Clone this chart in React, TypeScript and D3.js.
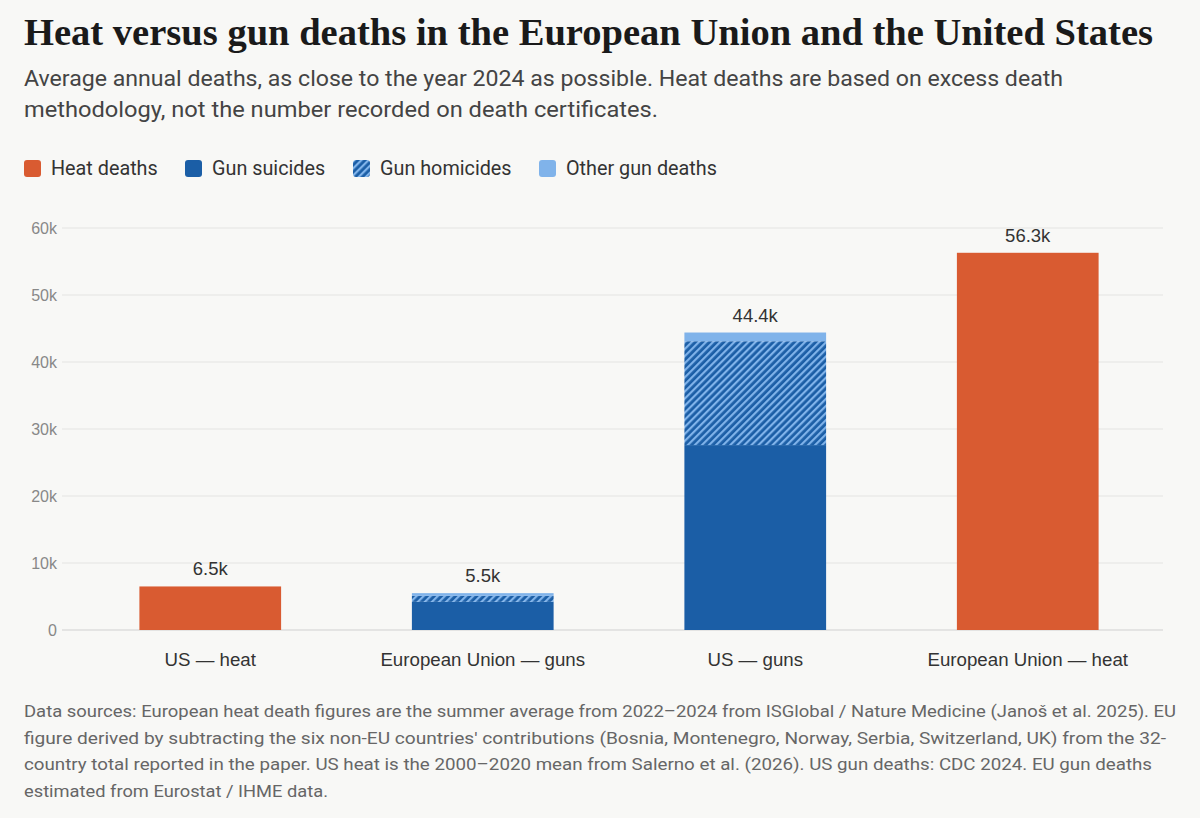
import React, { useEffect, useRef } from "react";
import * as d3 from "d3";

const categories = ["US — heat", "European Union — guns", "US — guns", "European Union — heat"];
const heatDeaths = [6.5, 0, 0, 56.3];
const gunSuicides = [0, 4.2, 27.6, 0];
const gunHomicides = [0, 0.9, 15.5, 0];
const otherGunDeaths = [0, 0.4, 1.3, 0];
const totalLabels = ["6.5k", "5.5k", "44.4k", "56.3k"];
const yTicks = [0, 10, 20, 30, 40, 50, 60];

const seriesKeys = ["heat", "suicides", "homicides", "other"];
const legendLabels = ["Heat deaths", "Gun suicides", "Gun homicides", "Other gun deaths"];

const subtitleLines = [
  "Average annual deaths, as close to the year 2024 as possible. Heat deaths are based on excess death",
  "methodology, not the number recorded on death certificates.",
];
const subtitleWidths = [1039, 634];
const footerLines = [
  "Data sources: European heat death figures are the summer average from 2022–2024 from ISGlobal / Nature Medicine (Janoš et al. 2025). EU",
  "figure derived by subtracting the six non-EU countries' contributions (Bosnia, Montenegro, Norway, Serbia, Switzerland, UK) from the 32-",
  "country total reported in the paper. US heat is the 2000–2020 mean from Salerno et al. (2026). US gun deaths: CDC 2024. EU gun deaths",
  "estimated from Eurostat / IHME data.",
];
const footerWidths = [1152, 1142, 1128, 304];

const W = 1200;
const H = 818;
const ORANGE = "#d95b31";
const DARK = "#1b5ea6";
const LIGHT = "#80b3ea";
const SANS = "Roboto, 'Noto Sans', sans-serif";
const HELV = "'Liberation Sans', Arial, sans-serif";

const App = () => {
  const ref = useRef<SVGSVGElement>(null);

  useEffect(() => {
    const svg = d3.select(ref.current);
    svg.selectAll("*").remove();

    svg.append("rect").attr("width", W).attr("height", H).attr("fill", "#f8f8f6");

    // hatch pattern for homicides
    const defs = svg.append("defs");
    const pat = defs
      .append("pattern")
      .attr("id", "hatch")
      .attr("patternUnits", "userSpaceOnUse")
      .attr("width", 5)
      .attr("height", 5)
      .attr("patternTransform", "rotate(45)");
    pat.append("rect").attr("width", 5).attr("height", 5).attr("fill", DARK);
    pat.append("rect").attr("width", 2.2).attr("height", 5).attr("fill", LIGHT);

    const fills: Record<string, string> = {
      heat: ORANGE,
      suicides: DARK,
      homicides: "url(#hatch)",
      other: LIGHT,
    };

    // titles
    svg
      .append("text")
      .attr("x", 24)
      .attr("y", 45)
      .attr("font-family", "'Liberation Serif', serif")
      .attr("font-weight", "bold")
      .attr("font-size", 38)
      .attr("fill", "#1a1a1a")
      .attr("textLength", 1129)
      .attr("lengthAdjust", "spacingAndGlyphs")
      .text("Heat versus gun deaths in the European Union and the United States");

    svg
      .append("g")
      .selectAll("text")
      .data(subtitleLines)
      .enter()
      .append("text")
      .attr("x", 24)
      .attr("y", (d, i) => 86 + i * 31)
      .attr("font-family", SANS)
      .attr("font-size", 21.5)
      .attr("fill", "#444")
      .attr("textLength", (d, i) => subtitleWidths[i])
      .attr("lengthAdjust", "spacingAndGlyphs")
      .text((d) => d);

    // legend
    const legendX = [24, 185, 353, 539];
    const legend = svg
      .append("g")
      .selectAll("g")
      .data(seriesKeys)
      .enter()
      .append("g")
      .attr("transform", (d, i) => `translate(${legendX[i]},160)`);
    legend
      .append("rect")
      .attr("width", 17)
      .attr("height", 17)
      .attr("rx", 3)
      .attr("fill", (d) => fills[d]);
    legend
      .append("text")
      .attr("x", 27)
      .attr("y", 15)
      .attr("font-family", SANS)
      .attr("font-size", 19.8)
      .attr("fill", "#333")
      .text((d, i) => legendLabels[i]);

    // scales
    const x = d3
      .scaleBand<string>()
      .domain(categories)
      .range([74, 1164])
      .paddingInner(0.48)
      .paddingOuter(0.24);
    const y = d3.scaleLinear().domain([0, 60]).range([630, 228]);

    // grid + y labels
    const grid = svg.append("g");
    grid
      .selectAll("line")
      .data(yTicks)
      .enter()
      .append("line")
      .attr("x1", 62)
      .attr("x2", 1163)
      .attr("y1", (d) => y(d))
      .attr("y2", (d) => y(d))
      .attr("stroke", (d) => (d === 0 ? "#cfcfcf" : "#e4e4e2"))
      .attr("stroke-width", 1.2);
    grid
      .selectAll("text")
      .data(yTicks)
      .enter()
      .append("text")
      .attr("x", 57)
      .attr("y", (d) => y(d))
      .attr("dy", "0.35em")
      .attr("text-anchor", "end")
      .attr("font-family", HELV)
      .attr("font-size", 16)
      .attr("fill", "#888")
      .text((d) => (d === 0 ? "0" : `${d}k`));

    // stacked bars
    const rows = categories.map((c, i) => ({
      category: c,
      heat: heatDeaths[i],
      suicides: gunSuicides[i],
      homicides: gunHomicides[i],
      other: otherGunDeaths[i],
    }));
    const stacked = d3.stack<any>().keys(seriesKeys)(rows);

    svg
      .append("g")
      .selectAll("g")
      .data(stacked)
      .enter()
      .append("g")
      .attr("fill", (s) => fills[s.key])
      .selectAll("rect")
      .data((s) => s.filter((d) => d[1] - d[0] > 0))
      .enter()
      .append("rect")
      .attr("x", (d) => x(d.data.category)!)
      .attr("width", x.bandwidth())
      .attr("y", (d) => y(d[1]))
      .attr("height", (d) => y(d[0]) - y(d[1]));

    // totals
    svg
      .append("g")
      .selectAll("text")
      .data(rows)
      .enter()
      .append("text")
      .attr("x", (d) => x(d.category)! + x.bandwidth() / 2)
      .attr("y", (d) => y(d.heat + d.suicides + d.homicides + d.other) - 11)
      .attr("text-anchor", "middle")
      .attr("font-family", HELV)
      .attr("font-size", 18.5)
      .attr("fill", "#333")
      .text((d, i) => totalLabels[i]);

    // category labels
    svg
      .append("g")
      .selectAll("text")
      .data(categories)
      .enter()
      .append("text")
      .attr("x", (d) => x(d)! + x.bandwidth() / 2)
      .attr("y", 666)
      .attr("text-anchor", "middle")
      .attr("font-family", HELV)
      .attr("font-size", 18.7)
      .attr("fill", "#333")
      .text((d) => d);

    // footer
    svg
      .append("g")
      .selectAll("text")
      .data(footerLines)
      .enter()
      .append("text")
      .attr("x", 24)
      .attr("y", (d, i) => 717 + i * 26.5)
      .attr("font-family", SANS)
      .attr("font-size", 17.2)
      .attr("fill", "#666")
      .attr("textLength", (d, i) => footerWidths[i])
      .attr("lengthAdjust", "spacingAndGlyphs")
      .text((d) => d);
  }, []);

  return (
    <svg
      ref={ref}
      width={W}
      height={H}
      style={{ position: "absolute", left: 0, top: 0, display: "block" }}
    />
  );
};

export default App;
